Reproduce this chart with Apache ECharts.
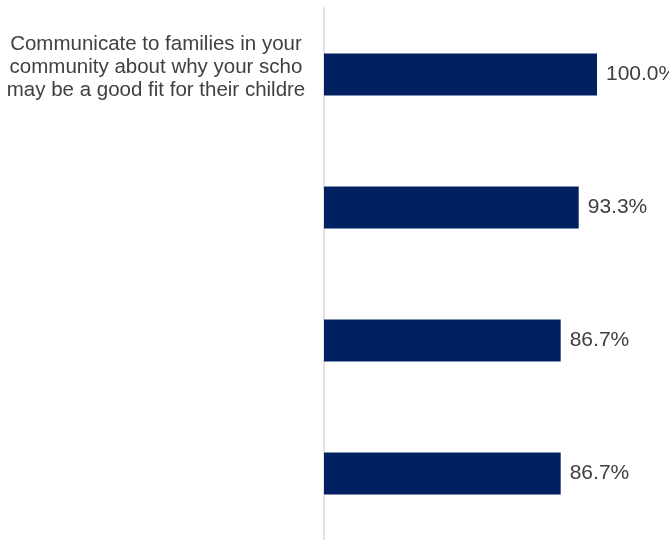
<!DOCTYPE html>
<html>
<head>
<meta charset="utf-8">
<script src="https://cdn.jsdelivr.net/npm/echarts@6/dist/echarts.min.js"></script>
<style>
html,body{margin:0;padding:0;background:#fff;}
#chart{width:669px;height:540px;}
</style>
</head>
<body>
<div id="chart"></div>
<script>
var categories = [
  "Communicate to families in your\ncommunity about why your school\nmay be a good fit for their children",
  "",
  "",
  ""
];
var values = [100.0, 93.3, 86.7, 86.7];

var chart = echarts.init(document.getElementById('chart'), null, {renderer: 'canvas'});
chart.setOption({
  animation: false,
  backgroundColor: '#ffffff',
  grid: {left: 324, top: 8, width: 273, height: 533, containLabel: false},
  xAxis: {
    type: 'value', min: 0, max: 100, show: false
  },
  yAxis: {
    type: 'category',
    data: categories,
    inverse: true,
    axisLine: {show: true, lineStyle: {color: '#e2e2e2', width: 2}},
    axisTick: {show: false},
    axisLabel: {
      interval: 0,
      margin: 168,
      align: 'center',
      verticalAlign: 'middle',
      width: 303,
      overflow: 'truncate',
      ellipsis: '',
      fontFamily: 'Liberation Sans, Arial, sans-serif',
      fontSize: 20.5,
      lineHeight: 23.3,
      color: '#404040',
      formatter: function (v) { return v ? v + '\n{gap|}' : ''; },
      rich: {
        gap: {fontSize: 1, lineHeight: 14}
      }
    }
  },
  series: [{
    type: 'bar',
    data: values,
    barWidth: 42,
    itemStyle: {color: '#002060'},
    label: {
      show: true,
      position: 'right',
      distance: 9,
      fontFamily: 'Liberation Sans, Arial, sans-serif',
      fontSize: 21,
      color: '#404040',
      formatter: function (p) { return p.value.toFixed(1) + '%'; }
    }
  }]
});
</script>
</body>
</html>
